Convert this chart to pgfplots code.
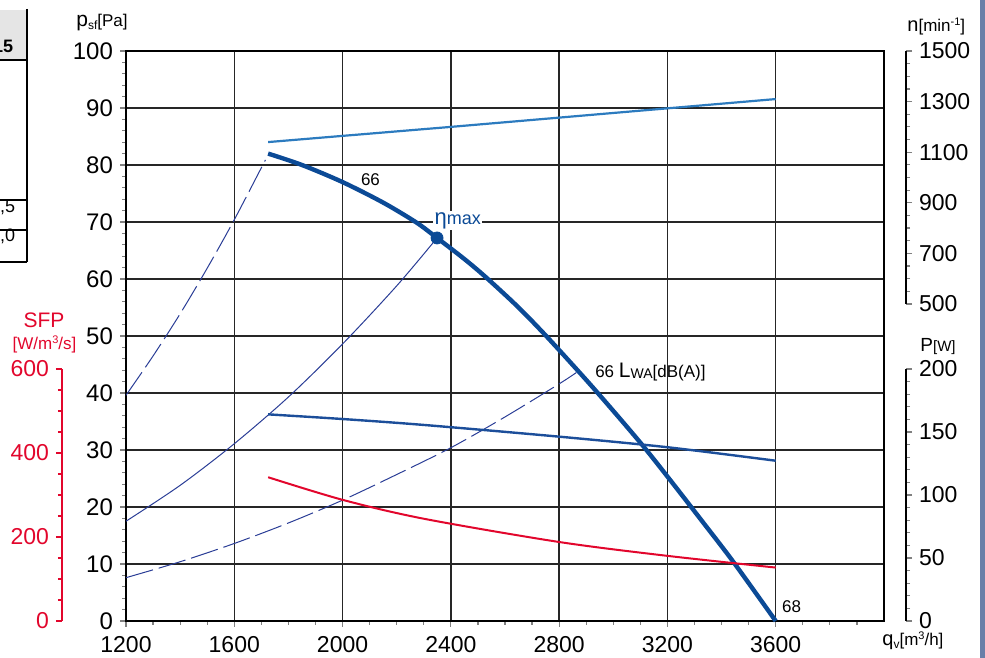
\documentclass[border=0pt]{standalone}
\usepackage{fontspec}
\setmainfont{Liberation Sans}
\usepackage{pgfplots}
\pgfplotsset{compat=1.18}

\definecolor{curveblue}{HTML}{0B4A96}
\definecolor{speedblue}{HTML}{2C7BBF}
\definecolor{powerblue}{HTML}{1C4E9A}
\definecolor{thinblue}{HTML}{2A3D96}
\definecolor{sfpred}{HTML}{E2062C}
\definecolor{framebar}{HTML}{6A7FA8}

\newcommand\fs[1]{\fontsize{#1}{#1}\selectfont}

\pgfplotsset{
  fanaxis/.style={
    scale only axis, anchor=south west,
    tick align=outside,
    /pgf/number format/assume math mode=true,
    /pgf/number format/1000 sep={},
    major tick length=3pt, minor tick length=2pt,
    every tick/.append style={line width=0.6pt},
    axis line style={line width=0.7pt},
    tick label style={font=\fs{11.5}},
    clip=false,
  },
}

\begin{document}
\begin{tikzpicture}
\useasboundingbox (0,0) rectangle (492.5pt,329pt);
\clip (0,0) rectangle (492.5pt,329pt);

% pixel coordinates of the screenshot (y down)
\begin{scope}[x=0.5pt,y=-0.5pt,shift={(0pt,329pt)}]
  % piece of the data table at the left
  \fill[black!10] (0,10) rectangle (27,60);
  \draw[line width=0.9pt] (27,9) -- (27,262);
  \draw[line width=0.8pt] (0,60) -- (27,60);
  \draw[line width=1pt] (0,200) -- (27,200);
  \draw[line width=0.6pt] (0,230) -- (27,230);
  \draw[line width=1pt] (0,262) -- (27,262);
  \node[anchor=base east, inner sep=0pt, font=\fs{9}\bfseries] at (13.5,53) {15};
  \node[anchor=base east, inner sep=0pt, font=\fs{9}] at (15.5,213) {,5};
  \node[anchor=base east, inner sep=0pt, font=\fs{9}] at (15.5,242) {,0};
  % window frame
  \fill[framebar] (980,0) rectangle (985,658);

  % axis titles
  \node[anchor=base west, inner sep=0pt] at (76,27)
    {\fs{10.5}p\raisebox{-1.2pt}{\fs{6}sf}\fs{8.5}[Pa]};
  \node[anchor=base west, inner sep=0pt] at (907,31.5)
    {\fs{10}n\fs{8.5}[min\raisebox{3pt}{\fs{5.5}-1}]};
  \node[anchor=base west, inner sep=0pt] at (920,352)
    {\fs{9.5}P\fs{7.5}[W]};
  \node[anchor=base west, inner sep=0pt] at (882,646)
    {\fs{10}q\raisebox{-1.2pt}{\fs{6}v}\fs{8.5}[m\raisebox{3pt}{\fs{5.5}3}/h]};
  \node[anchor=base, inner sep=0pt, text=sfpred, font=\fs{10.5}] at (44,328) {SFP};
  \node[anchor=base, inner sep=0pt, text=sfpred] at (44.5,350)
    {\fs{8.5}[W/m\raisebox{3pt}{\fs{5.5}3}/s]};
\end{scope}

% main axis: static pressure
\begin{axis}[fanaxis,
  at={(63pt,18.5pt)}, width=379pt, height=285pt,
  xmin=1200, xmax=4000, ymin=0, ymax=100,
  xtick={1200,1600,...,3600}, minor xtick={1300,1400,...,3900},
  ytick={0,10,...,100}, minor ytick={2,4,...,98},
  xtick pos=left, ytick pos=left,
  yticklabel style={font=\fs{12}},
  xticklabel style={yshift=-1pt},
  grid=major, major grid style={line width=0.7pt, black!85},
]
  % system curves
  \addplot[thinblue, line width=0.5pt, dash pattern=on 14pt off 3pt, smooth] coordinates {
    (1200,39.6) (1300,46.5) (1400,53.9) (1500,61.9) (1600,70.4) (1715,80.9)
  };
  \addplot[thinblue, line width=0.5pt, smooth] coordinates {
    (1200,17.5) (1400,23.8) (1600,31.1) (1800,39.3) (2000,48.6) (2200,58.8) (2349,67.2)
  };
  \addplot[thinblue, line width=0.5pt, dash pattern=on 14pt off 3pt, smooth] coordinates {
    (1200,7.6) (1400,10.4) (1600,13.6) (1800,17.2) (2000,21.2) (2200,25.7)
    (2400,30.4) (2600,35.8) (2800,41.6) (2864,43.6)
  };
  % fan curve
  \addplot[curveblue, line width=2.2pt, smooth] coordinates {
    (1725,82.0) (1850,80.0) (2000,77.0) (2150,73.4) (2273,69.9) (2349,67.2)
    (2450,63.5) (2532,60.2) (2650,55.0) (2760,49.6) (2926,40.9) (3098,31.4)
    (3209,24.8) (3330,17.4) (3443,10.4) (3600,0.0)
  };
  \addplot[only marks, mark=*, mark size=3pt, curveblue] coordinates {(2349,67.2)};

  \node[font=\fs{8.5}] at (axis cs:2103,77.4) {66};
  \node[font=\fs{8.5}] at (axis cs:3659,2.5) {68};
  \node[anchor=base west, fill=white, inner sep=0.6pt, text=curveblue] at (axis cs:2334,69.6)
    {\fs{11}η\fs{9}max};
  \node[anchor=base west, inner sep=0pt] at (axis cs:2932,42.8)
    {\fs{8.5}66 \fs{10.5}L\raisebox{-0.6pt}{\fs{7}WA}\fs{8.5}[dB(A)]};
\end{axis}

% speed axis
\begin{axis}[fanaxis,
  at={(63pt,177pt)}, width=390pt, height=126.5pt,
  xmin=1200, xmax=4081.3, ymin=500, ymax=1500,
  axis x line=none, axis y line*=right,
  ytick={500,700,...,1500}, minor tick num=3,
]
  \addplot[speedblue, line width=1.1pt] coordinates {
    (1725,1140) (2400,1200) (3000,1255) (3600,1310)
  };
\end{axis}

% power axis
\begin{axis}[fanaxis,
  at={(63pt,18.5pt)}, width=390pt, height=126pt,
  xmin=1200, xmax=4081.3, ymin=0, ymax=200,
  axis x line=none, axis y line*=right,
  ytick={0,50,...,200}, minor tick num=4,
]
  \addplot[powerblue, line width=1.2pt, smooth] coordinates {
    (1725,164.0) (2000,160.3) (2300,155.6) (2800,146.3) (3200,137.9) (3600,127.2)
  };
\end{axis}

% SFP axis
\begin{axis}[fanaxis,
  at={(31pt,18.5pt)}, width=411pt, height=126pt,
  xmin=963.6, xmax=4000, ymin=0, ymax=600,
  axis x line=none, axis y line*=left,
  ytick={0,200,400,600}, minor tick num=3,
  axis line style={sfpred}, every tick/.append style={sfpred},
  yticklabel style={text=sfpred},
]
  \addplot[sfpred, line width=1pt, smooth] coordinates {
    (1725,342.3) (2000,288.5) (2300,243.5) (2800,188.1) (3200,155.1) (3600,127.2)
  };
\end{axis}
\end{tikzpicture}
\end{document}
